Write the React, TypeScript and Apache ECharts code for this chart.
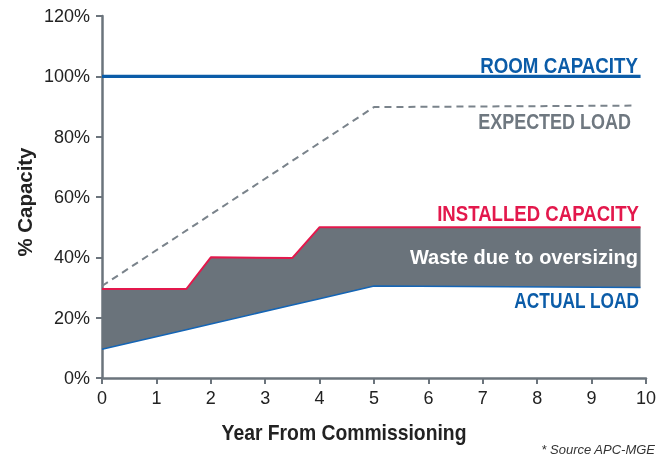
import React, { useEffect, useRef } from "react";
import * as echarts from "echarts";

const years = [0, 1.55, 2, 3.5, 4, 5, 9.9];
const actualLoad = [9.5, 16.0, 17.9, 24.2, 26.3, 30.5, 30.0];
const installedCapacity = [29.5, 29.5, 40, 39.8, 50, 50, 50];
const expectedYears = [0, 5, 9.75];
const expectedLoad = [30.5, 89.8, 90.3];
const roomYears = [0, 9.9];
const roomCapacity = [100, 100];
const yTicks = [0, 20, 40, 60, 80, 100, 120];
const xTicks = [0, 1, 2, 3, 4, 5, 6, 7, 8, 9, 10];

const COND = "'Liberation Sans', Arial, sans-serif";
const SANS = "'Liberation Sans', Arial, Helvetica, sans-serif";
const AXIS = "#6b747c";
const GRAY = "#6a737b";
const BLUE = "#0b5ca8";
const RED = "#e3184c";

function fit(text: string, font: string, width: number): number {
  const c = document.createElement("canvas").getContext("2d");
  if (!c) return 1;
  c.font = font;
  const w = c.measureText(text).width;
  return w > 0 ? width / w : 1;
}

function label(text: string, x: number, y: number, font: string, fill: string, width: number, align = "right", extra: any = {}) {
  return {
    type: "text",
    x,
    y,
    z: 20,
    scaleX: fit(text, font, width),
    ...extra,
    style: { text, fill, font, align, verticalAlign: "middle" },
  };
}

export default function App() {
  const ref = useRef<HTMLDivElement>(null);
  useEffect(() => {
    if (!ref.current) return;
    const chart = echarts.init(ref.current, undefined, { renderer: "svg" });
    const bold22 = `bold 22px ${COND}`;
    chart.setOption({
      animation: false,
      grid: { left: 102, right: 19, top: 16, bottom: 79, containLabel: false },
      xAxis: {
        type: "value",
        min: xTicks[0],
        max: xTicks[xTicks.length - 1],
        interval: 1,
        axisLine: { show: true, lineStyle: { color: AXIS, width: 2.5 } },
        axisTick: { show: true, length: 6, lineStyle: { color: AXIS, width: 2 } },
        axisLabel: { color: "#222", fontFamily: SANS, fontSize: 18, margin: 11 },
        splitLine: { show: false },
      },
      yAxis: {
        type: "value",
        min: yTicks[0],
        max: yTicks[yTicks.length - 1],
        interval: 20,
        axisLine: { show: true, lineStyle: { color: AXIS, width: 2.5 } },
        axisTick: { show: true, length: 6, lineStyle: { color: AXIS, width: 2 } },
        axisLabel: { color: "#222", fontFamily: SANS, fontSize: 18, margin: 12, formatter: "{value}%" },
        splitLine: { show: false },
      },
      series: [
        {
          type: "custom",
          name: "Waste",
          data: years.map((x, i) => [x, actualLoad[i], installedCapacity[i]]),
          encode: { x: 0, y: [1, 2] },
          z: 1,
          renderItem: (params: any, api: any) => {
            if (params.dataIndex !== 0) return null;
            const top = years.map((x, i) => api.coord([x, installedCapacity[i]]));
            const bottom = years.map((x, i) => api.coord([x, actualLoad[i]])).reverse();
            return { type: "polygon", shape: { points: top.concat(bottom) }, style: { fill: GRAY } };
          },
        },
        {
          type: "line",
          name: "Actual Load",
          data: actualLoad.map((v, i) => [years[i], v]),
          symbol: "none",
          lineStyle: { color: "#1565b5", width: 1.6 },
          z: 3,
        },
        {
          type: "line",
          name: "Installed Capacity",
          data: installedCapacity.map((v, i) => [years[i], v]),
          symbol: "none",
          lineStyle: { color: RED, width: 2 },
          z: 3,
        },
        {
          type: "line",
          name: "Expected Load",
          data: expectedLoad.map((v, i) => [expectedYears[i], v]),
          symbol: "none",
          lineStyle: { color: "#7a838b", width: 2, type: [7, 5] },
        },
        {
          type: "line",
          name: "Room Capacity",
          data: roomCapacity.map((v, i) => [roomYears[i], v]),
          symbol: "none",
          lineStyle: { color: BLUE, width: 3.4 },
        },
      ],
      graphic: [
        label("ROOM CAPACITY", 638, 65, bold22, BLUE, 158),
        label("EXPECTED LOAD", 631, 121, bold22, "#6f7880", 153),
        label("INSTALLED CAPACITY", 639, 213, bold22, RED, 202),
        label("Waste due to oversizing", 638, 256, `bold 21px ${COND}`, "#ffffff", 228),
        label("ACTUAL LOAD", 639, 300, bold22, BLUE, 125),
        label("Year From Commissioning", 344, 432, bold22, "#222", 245, "center"),
        label("% Capacity", 24, 202, `bold 21px ${COND}`, "#222", 109, "center", { rotation: Math.PI / 2 }),
        { type: "text", x: 655, y: 449, style: { text: "* Source APC-MGE", fill: "#333", font: `italic 13px ${SANS}`, align: "right", verticalAlign: "middle" } },
      ],
    });
    return () => chart.dispose();
  }, []);
  return <div ref={ref} style={{ position: "fixed", left: 0, top: 0, width: 665, height: 457 }} />;
}
